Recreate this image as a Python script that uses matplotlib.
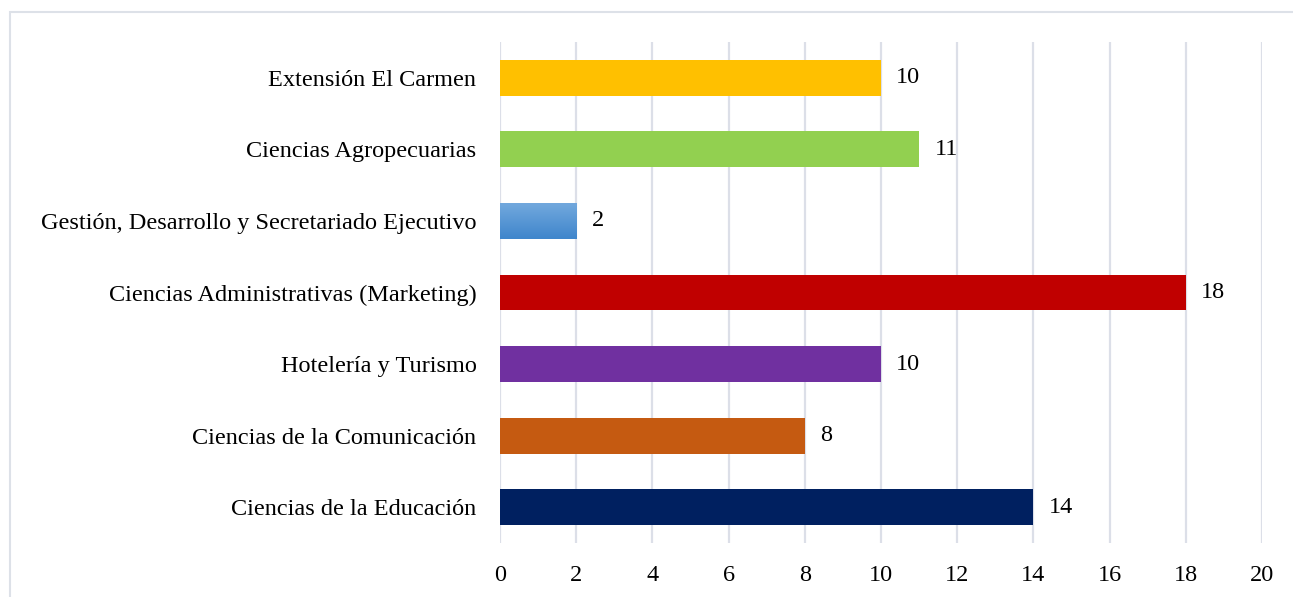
import matplotlib.pyplot as plt
import numpy as np
from matplotlib.patches import Rectangle
from matplotlib.colors import LinearSegmentedColormap

# Data (bottom to top)
categories = ['Ciencias de la Educación', 'Ciencias de la Comunicación', 'Hotelería y Turismo',
              'Ciencias Administrativas (Marketing)', 'Gestión, Desarrollo y Secretariado Ejecutivo',
              'Ciencias Agropecuarias', 'Extensión El Carmen']
values = [14, 8, 10, 18, 2, 11, 10]
colors = ['#002060', '#C55A11', '#7030A0', '#C00000', '#5B9BD5', '#92D050', '#FFC000']
x_ticks = [0, 2, 4, 6, 8, 10, 12, 14, 16, 18, 20]

plt.rcParams['font.family'] = ['Liberation Serif', 'DejaVu Serif']
fs = 17.5

fig = plt.figure(figsize=(12.93, 5.97), dpi=100)
ax = fig.add_axes([0.3867, 0.0905, 0.976 - 0.3867, 0.9296 - 0.0905])

y = np.arange(len(categories))
bars = ax.barh(y, values, height=0.5, color=colors, zorder=3)

# gradient fill for the light blue bar
grad_bar = bars[4]
bx, by = grad_bar.get_x(), grad_bar.get_y()
bw, bh = grad_bar.get_width(), grad_bar.get_height()
cmap = LinearSegmentedColormap.from_list('blue_grad', ['#3F86CC', '#72A8DD'])
img = ax.imshow(np.linspace(0, 1, 50).reshape(-1, 1), cmap=cmap, aspect='auto',
                extent=[bx, bx + bw, by, by + bh], origin='lower', zorder=4)
img.set_clip_path(grad_bar)

for v, yy in zip(values, y):
    ax.annotate(str(v), (v, yy), xytext=(11, 0), textcoords='offset points',
                va='center', ha='left', fontsize=fs)

ax.set_xlim(0, 20)
ax.set_ylim(-0.5, len(categories) - 0.5)
ax.set_xticks(x_ticks)
ax.set_yticks(y)
ax.set_yticklabels(categories, fontsize=fs)
ax.tick_params(axis='x', labelsize=fs, length=0, pad=16)
ax.tick_params(axis='y', length=0, pad=17)
ax.grid(axis='x', color='#DCDFE8', linewidth=1.6, zorder=0)
for s in ax.spines.values():
    s.set_visible(False)

# chart border
fig.patches.append(Rectangle((10 / 1293, -0.1), 1.2, 1 - 12 / 597 + 0.1, transform=fig.transFigure,
                             fill=False, edgecolor='#DDE1E8', linewidth=1.5, zorder=0))

plt.savefig('out.png', dpi=100)
